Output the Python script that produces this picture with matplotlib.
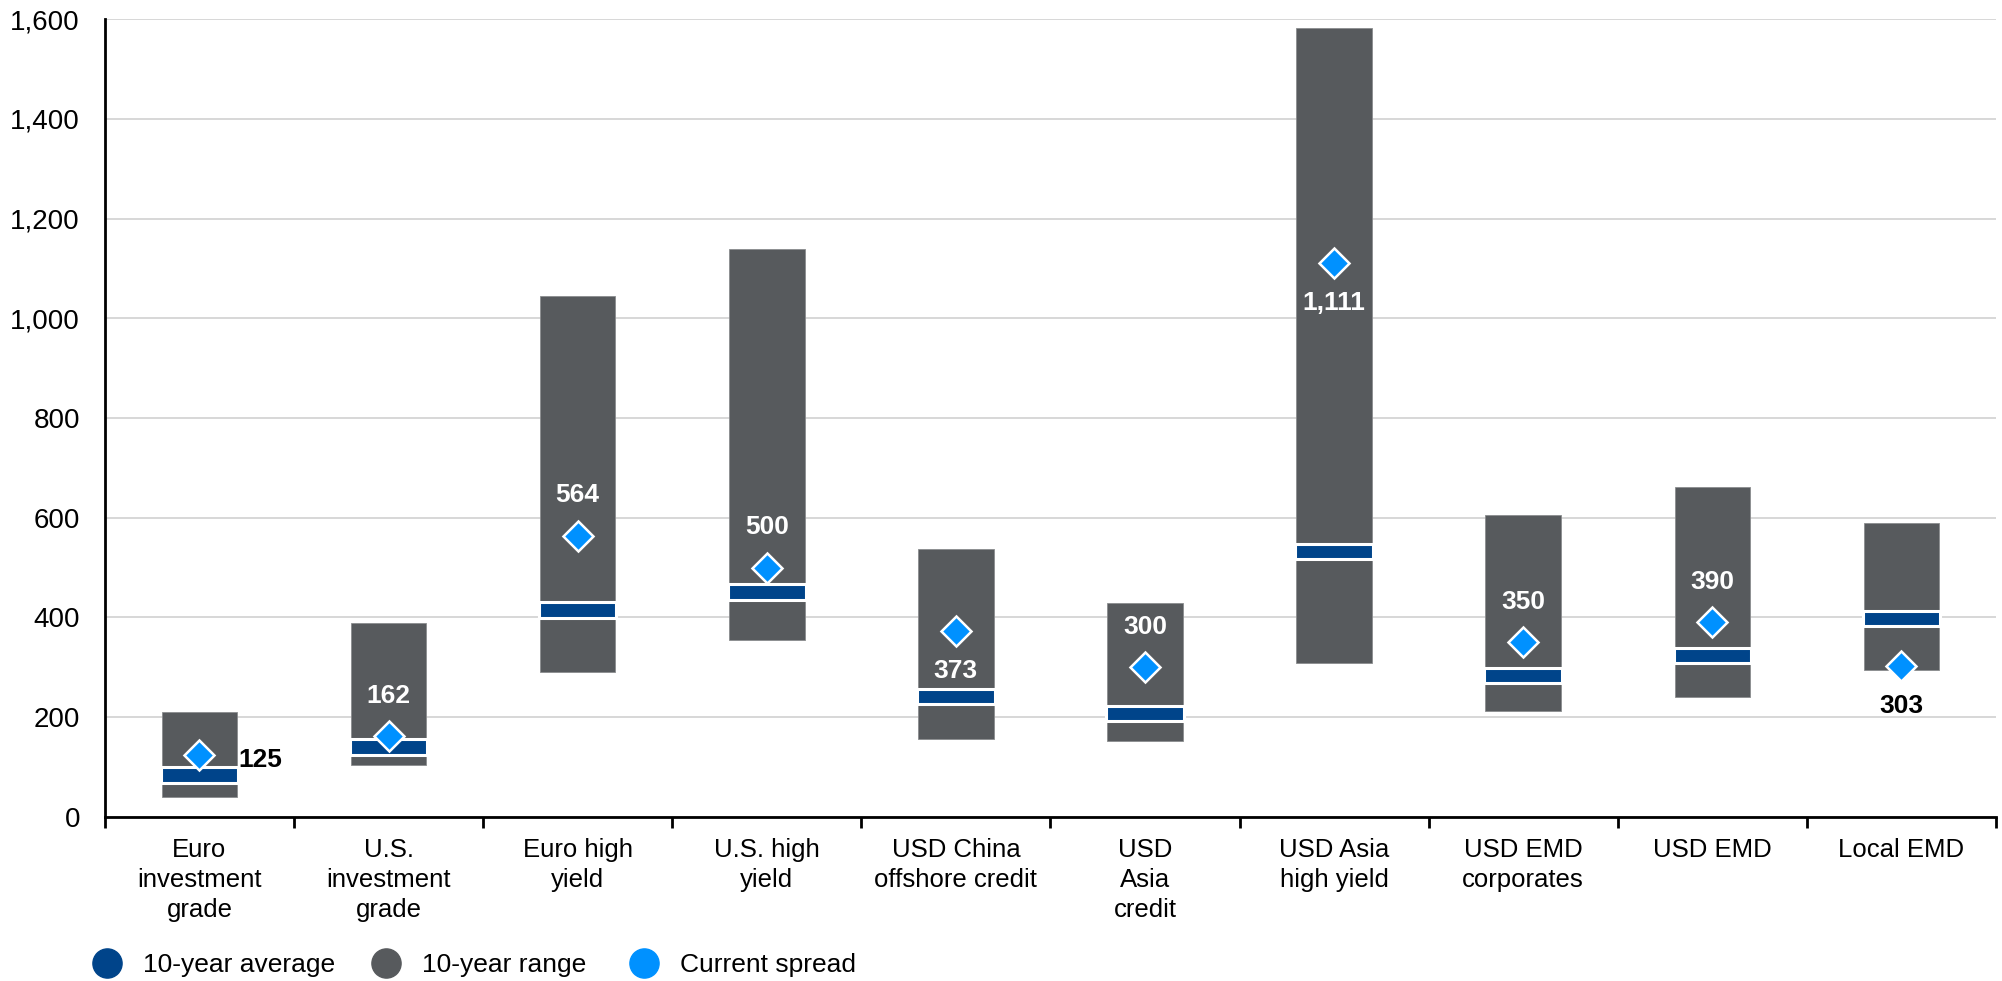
import numpy as np
import matplotlib
matplotlib.use("Agg")
import matplotlib.pyplot as plt
from matplotlib.lines import Line2D
from matplotlib.ticker import FuncFormatter, FixedLocator

# Datos (puntos basicos)
categorias = ['Euro\ninvestment\ngrade', 'U.S.\ninvestment\ngrade', 'Euro high\nyield',
              'U.S. high\nyield', 'USD China\noffshore credit', 'USD\nAsia\ncredit',
              'USD Asia\nhigh yield', 'USD EMD\ncorporates', 'USD EMD', 'Local EMD']
rango_min = [41, 105, 290, 354, 157, 152, 308, 213, 241, 294]
rango_max = [210, 388, 1044, 1138, 537, 430, 1583, 605, 661, 589]
promedio = [84, 140, 415, 451, 242, 207, 532, 284, 324, 398]
actual = [125, 162, 564, 500, 373, 300, 1111, 350, 390, 303]
etiquetas = ['125', '162', '564', '500', '373', '300', '1,111', '350', '390', '303']
# posicion de la etiqueta respecto al rombo
pos_etiqueta = ['right', 'above', 'above', 'above', 'below', 'above', 'below', 'above', 'above', 'below']

gris = '#575a5d'
azul_oscuro = '#00448a'
azul_claro = '#0091ff'

plt.rcParams['font.family'] = ['Liberation Sans', 'DejaVu Sans']

fig = plt.figure(figsize=(20.02, 9.81), dpi=100)
ax = fig.add_axes([0.0524, 0.1672, 0.9446, 0.8134])

x = np.arange(len(categorias))
ax.bar(x, np.array(rango_max) - np.array(rango_min), bottom=rango_min, width=0.4,
       color=gris, edgecolor='#8a8c8e', linewidth=0.6, zorder=2)

alto_banda = 31
ax.bar(x, alto_banda, bottom=np.array(promedio) - alto_banda / 2, width=0.41,
       color=azul_oscuro, edgecolor='white', linewidth=2.2, zorder=3)

ax.plot(x, actual, linestyle='none', marker='D', markersize=15, color=azul_claro,
        markeredgecolor='white', markeredgewidth=1.8, zorder=4)

for i, (val, txt, pos) in enumerate(zip(actual, etiquetas, pos_etiqueta)):
    if pos == 'right':
        ax.annotate(txt, (x[i], val), xytext=(28, -4), textcoords='offset points',
                    ha='left', va='center', fontsize=19, fontweight='bold', color='black', zorder=5)
    elif pos == 'above':
        ax.annotate(txt, (x[i], val), xytext=(0, 29), textcoords='offset points',
                    ha='center', va='center', fontsize=19, fontweight='bold', color='white', zorder=5)
    else:
        col = 'white' if val - 70 > rango_min[i] else 'black'
        ax.annotate(txt, (x[i], val), xytext=(0, -29), textcoords='offset points',
                    ha='center', va='center', fontsize=19, fontweight='bold', color=col, zorder=5)

ax.set_xlim(-0.5, len(categorias) - 0.5)
ax.set_ylim(0, 1600)
ax.set_yticks(np.arange(0, 1601, 200))
ax.yaxis.set_major_formatter(FuncFormatter(lambda v, p: f'{int(v):,}'))
ax.grid(axis='y', color='#d4d4d4', linewidth=1.3, zorder=0)
ax.set_axisbelow(True)

ax.set_xticks(x)
ax.set_xticklabels(categorias, fontsize=18.5, linespacing=1.33)
ax.xaxis.set_minor_locator(FixedLocator(np.arange(-0.5, len(categorias), 1.0)))
ax.tick_params(axis='x', which='major', length=0, pad=15)
ax.tick_params(axis='x', which='minor', length=8, width=2, direction='out', color='black')
ax.tick_params(axis='y', length=0, labelsize=20, pad=18)

for lado in ['top', 'right']:
    ax.spines[lado].set_visible(False)
for lado in ['left', 'bottom']:
    ax.spines[lado].set_color('black')
    ax.spines[lado].set_linewidth(2)

# Leyenda
items = [('10-year average', azul_oscuro), ('10-year range', gris), ('Current spread', azul_claro)]
x_leyenda = [0.0416, 0.181, 0.310]
for (txt, col), xl in zip(items, x_leyenda):
    h = Line2D([], [], linestyle='none', marker='o', markersize=21, color=col)
    fig.legend([h], [txt], loc='center left', bbox_to_anchor=(xl, 0.0165), frameon=False,
               fontsize=19, handlelength=1.0, handletextpad=0.86, borderaxespad=0)

fig.savefig('out.png', dpi=100)
